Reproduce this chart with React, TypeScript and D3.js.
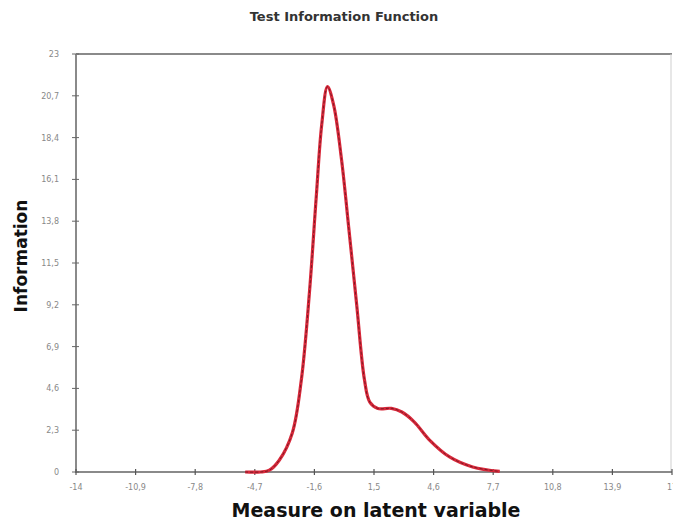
import React from "react";
import * as d3 from "d3";

const xTicks = [-14, -10.9, -7.8, -4.7, -1.6, 1.5, 4.6, 7.7, 10.8, 13.9, 17];
const yTicks = [0, 2.3, 4.6, 6.9, 9.2, 11.5, 13.8, 16.1, 18.4, 20.7, 23];

const thetaValues = [-5.2, -4.4, -3.94, -3.42, -2.75, -2.28, -1.86, -1.5, -1.22, -0.92, -0.6, -0.19, 0.2, 0.6, 1.0, 1.28, 1.7, 2.4, 2.95, 3.6, 4.39, 5.43, 6.63, 8.04];
const infoValues = [0, 0, 0.1, 0.66, 2.15, 5.06, 9.85, 15.2, 19.1, 21.2, 20.2, 17.2, 13.3, 9.2, 5.1, 3.85, 3.5, 3.5, 3.3, 2.75, 1.76, 0.83, 0.28, 0.03];

const W = 673;
const H = 520;
const left = 76;
const right = 672;
const top = 54;
const bottom = 472;

export default function App() {
  const x = d3.scaleLinear().domain([-14, 17]).range([left, right]);
  const y = d3.scaleLinear().domain([0, 23]).range([bottom, top]);
  const fmt = (v: number) => String(v).replace(".", ",");
  const pts: [number, number][] = thetaValues.map((t, i) => [t, infoValues[i]]);
  const line = d3
    .line<[number, number]>()
    .x((d) => x(d[0]))
    .y((d) => Math.min(bottom, y(d[1])))
    .curve(d3.curveCatmullRom.alpha(0.5));
  const path = line(pts) || "";
  const axisColor = "#8a8a8a";
  const font = "'DejaVu Sans', Verdana, sans-serif";
  return (
    <svg width={W} height={H} style={{ position: "absolute", left: 0, top: 0, background: "#fff" }} fontFamily={font}>
      <rect x={0} y={0} width={W} height={H} fill="#fff" />
      <text x={344} y={21} textAnchor="middle" fontSize={13} fontWeight="bold" fill="#333">
        Test Information Function
      </text>
      <line x1={left} x2={right} y1={top} y2={top} stroke={axisColor} strokeWidth={2} />
      <line x1={right - 1} x2={right - 1} y1={top} y2={bottom} stroke="#cfcfcf" strokeWidth={1} />
      <line x1={left} x2={left} y1={top} y2={bottom + 1} stroke={axisColor} strokeWidth={2} />
      <line x1={left - 1} x2={right} y1={bottom} y2={bottom} stroke={axisColor} strokeWidth={2} />
      {yTicks.map((t) => (
        <g key={"y" + t}>
          <line x1={left - 4} x2={left + 3} y1={y(t)} y2={y(t)} stroke="#666" strokeWidth={1} />
          <text x={left - 17} y={y(t) + 3} textAnchor="end" fontSize={8} fill="#888">
            {fmt(t)}
          </text>
        </g>
      ))}
      {xTicks.map((t) => (
        <g key={"x" + t}>
          <line x1={x(t)} x2={x(t)} y1={bottom - 3} y2={bottom + 3} stroke="#555" strokeWidth={1.2} />
          <text x={x(t)} y={bottom + 18} textAnchor="middle" fontSize={8} fill="#888">
            {fmt(t)}
          </text>
        </g>
      ))}
      <path d={path} fill="none" stroke="#d8283a" strokeWidth={3.2} strokeLinejoin="round" />
      <path d={path} fill="none" stroke="#7a1a24" strokeWidth={1} strokeDasharray="3 2" />
      <text x={376} y={517} textAnchor="middle" fontSize={19} fontWeight="bold" fill="#111">
        Measure on latent variable
      </text>
      <text transform={`translate(27,${256}) rotate(-90)`} textAnchor="middle" fontSize={17} fontWeight="bold" fill="#111">
        Information
      </text>
    </svg>
  );
}
